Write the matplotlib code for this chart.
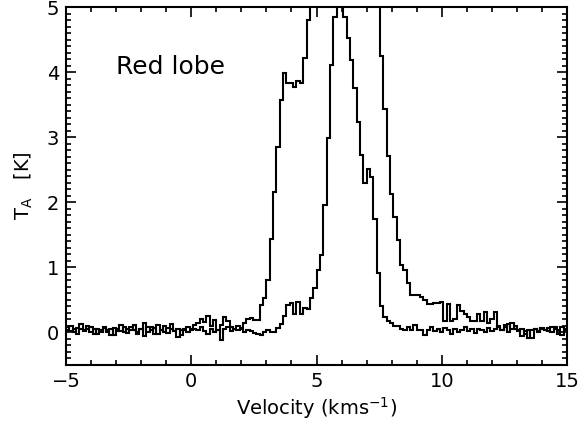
import numpy as np
import matplotlib
matplotlib.use('Agg')
import matplotlib.pyplot as plt
from matplotlib.ticker import MultipleLocator

plt.rcParams['font.family'] = ['DejaVu Sans']
plt.rcParams['mathtext.fontset'] = 'dejavusans'

# channel edges of the spectra (km/s)
v_start = -5.0
v_stop = 15.0
n_chan = 150

# red lobe spectrum (broad, saturates above 5 K)
ta_lobe = [
    0.04, 0.10, 0.00, 0.07, 0.13, 0.02, 0.05, 0.09, -0.02, 0.06,
    0.01, 0.08, 0.03, -0.04, 0.07, 0.02, 0.11, 0.00, 0.05, 0.09,
    0.03, -0.03, 0.06, 0.15, 0.01, 0.08, -0.02, 0.12, 0.04, 0.00,
    0.07, 0.13, 0.02, 0.05, -0.04, 0.03, 0.09, 0.06, 0.11, 0.14,
    0.20, 0.16, 0.26, 0.10, 0.19, 0.03, 0.12, 0.23, 0.17, 0.08,
    0.05, 0.10, 0.07, 0.15, 0.21, 0.22, 0.19,
    0.19, 0.42, 0.53, 0.81, 1.43, 2.16, 2.85, 3.57, 3.98, 3.83,
    3.83, 3.77, 3.87, 3.83, 4.21, 4.80,
    5.6, 6.3, 7.0, 7.6, 8.1, 8.5, 8.8, 9.0, 9.1, 9.0,
    8.8, 8.5, 8.1, 7.6, 7.1, 6.6, 6.2, 5.9, 5.6, 5.4, 5.2,
    4.24, 3.44, 2.71, 2.12, 1.78, 1.42, 1.04, 0.96, 0.76, 0.58,
    0.57, 0.58, 0.55, 0.50, 0.43, 0.43, 0.46, 0.46, 0.47, 0.18,
    0.44, 0.18, 0.20, 0.42, 0.33, 0.29, 0.24, 0.17, 0.17, 0.28,
    0.17, 0.32, 0.14, 0.20, 0.32, 0.09,
    0.03, 0.08, 0.13, 0.05, 0.10, 0.02, 0.06, -0.03, 0.04, -0.08,
    0.05, 0.02, 0.06, 0.03, 0.07, 0.01, 0.09, 0.04, -0.04, 0.06,
]

# reference (narrow) spectrum
ta_core = [
    0.08, 0.02, 0.05, -0.03, 0.06, 0.03, 0.10, 0.01, 0.05, -0.02,
    0.04, 0.07, 0.00, 0.06, -0.04, 0.05, 0.02, 0.08, -0.01, 0.03,
    0.12, 0.01, 0.06, -0.05, 0.09, 0.03, 0.07, -0.02, 0.04, 0.10,
    -0.01, 0.05, 0.02, -0.07, 0.04, 0.06, 0.00, 0.03, 0.05, 0.04,
    0.08, 0.02, -0.03, 0.06, 0.01, 0.04, -0.11, 0.05, 0.08, 0.02,
    0.06, 0.03, 0.05, 0.01, 0.04, 0.02, -0.01, -0.03, -0.04, 0.00,
    0.04, 0.01, 0.01,
    0.07, 0.13, 0.26, 0.42, 0.45, 0.29, 0.47, 0.29, 0.37, 0.36,
    0.53, 0.68, 0.96, 1.19, 1.96, 2.98, 4.11, 4.85, 5.05, 5.03,
    4.85, 4.52, 4.19, 3.75, 3.24, 2.73, 2.30, 2.51, 2.39, 1.75,
    0.91, 0.40, 0.24, 0.17, 0.14, 0.10, 0.10, 0.06, 0.03, 0.09,
    0.03, 0.12, 0.03, 0.04, -0.04, 0.03, 0.09,
    0.02, 0.05, 0.00, 0.07, 0.03, -0.02, 0.06, 0.01, 0.04, 0.08,
    0.02, 0.05, -0.01, 0.06, 0.03, 0.00, 0.07, 0.02, 0.05, 0.10,
    0.04, 0.12, 0.01, 0.14, 0.06, 0.03, -0.06, 0.02, -0.09, 0.03,
    0.05, 0.01, 0.07, 0.04, 0.02, 0.08, 0.05, -0.02, 0.09, 0.03,
]

edges = np.linspace(v_start, v_stop, n_chan + 1)

fig = plt.figure(figsize=(5.81, 4.25), dpi=100)
ax = fig.add_axes([0.1136, 0.1412, 0.8624, 0.8423])

ax.stairs(ta_lobe, edges, baseline=None, color='black', lw=1.5)
ax.stairs(ta_core, edges, baseline=None, color='black', lw=1.5)

ax.set_xlim(-5, 15)
ax.set_ylim(-0.5, 5)
ax.xaxis.set_major_locator(MultipleLocator(5))
ax.xaxis.set_minor_locator(MultipleLocator(1))
ax.yaxis.set_major_locator(MultipleLocator(1))
ax.yaxis.set_minor_locator(MultipleLocator(0.1))
ax.tick_params(which='both', direction='in', top=True, right=True, width=1.2, labelsize=14)
ax.tick_params(which='major', length=7, pad=5)
ax.tick_params(which='minor', length=3.5)
for s in ax.spines.values():
    s.set_linewidth(1.5)

ax.set_xlabel(r'Velocity (kms$^{-1}$)', fontsize=14, labelpad=3)
ax.set_ylabel(r'T$_{\mathrm{A}}$   [K]', fontsize=14, labelpad=8)
ax.text(-3.0, 4.08, 'Red lobe', fontsize=18, va='center', ha='left')

fig.savefig('out.png', dpi=100)
